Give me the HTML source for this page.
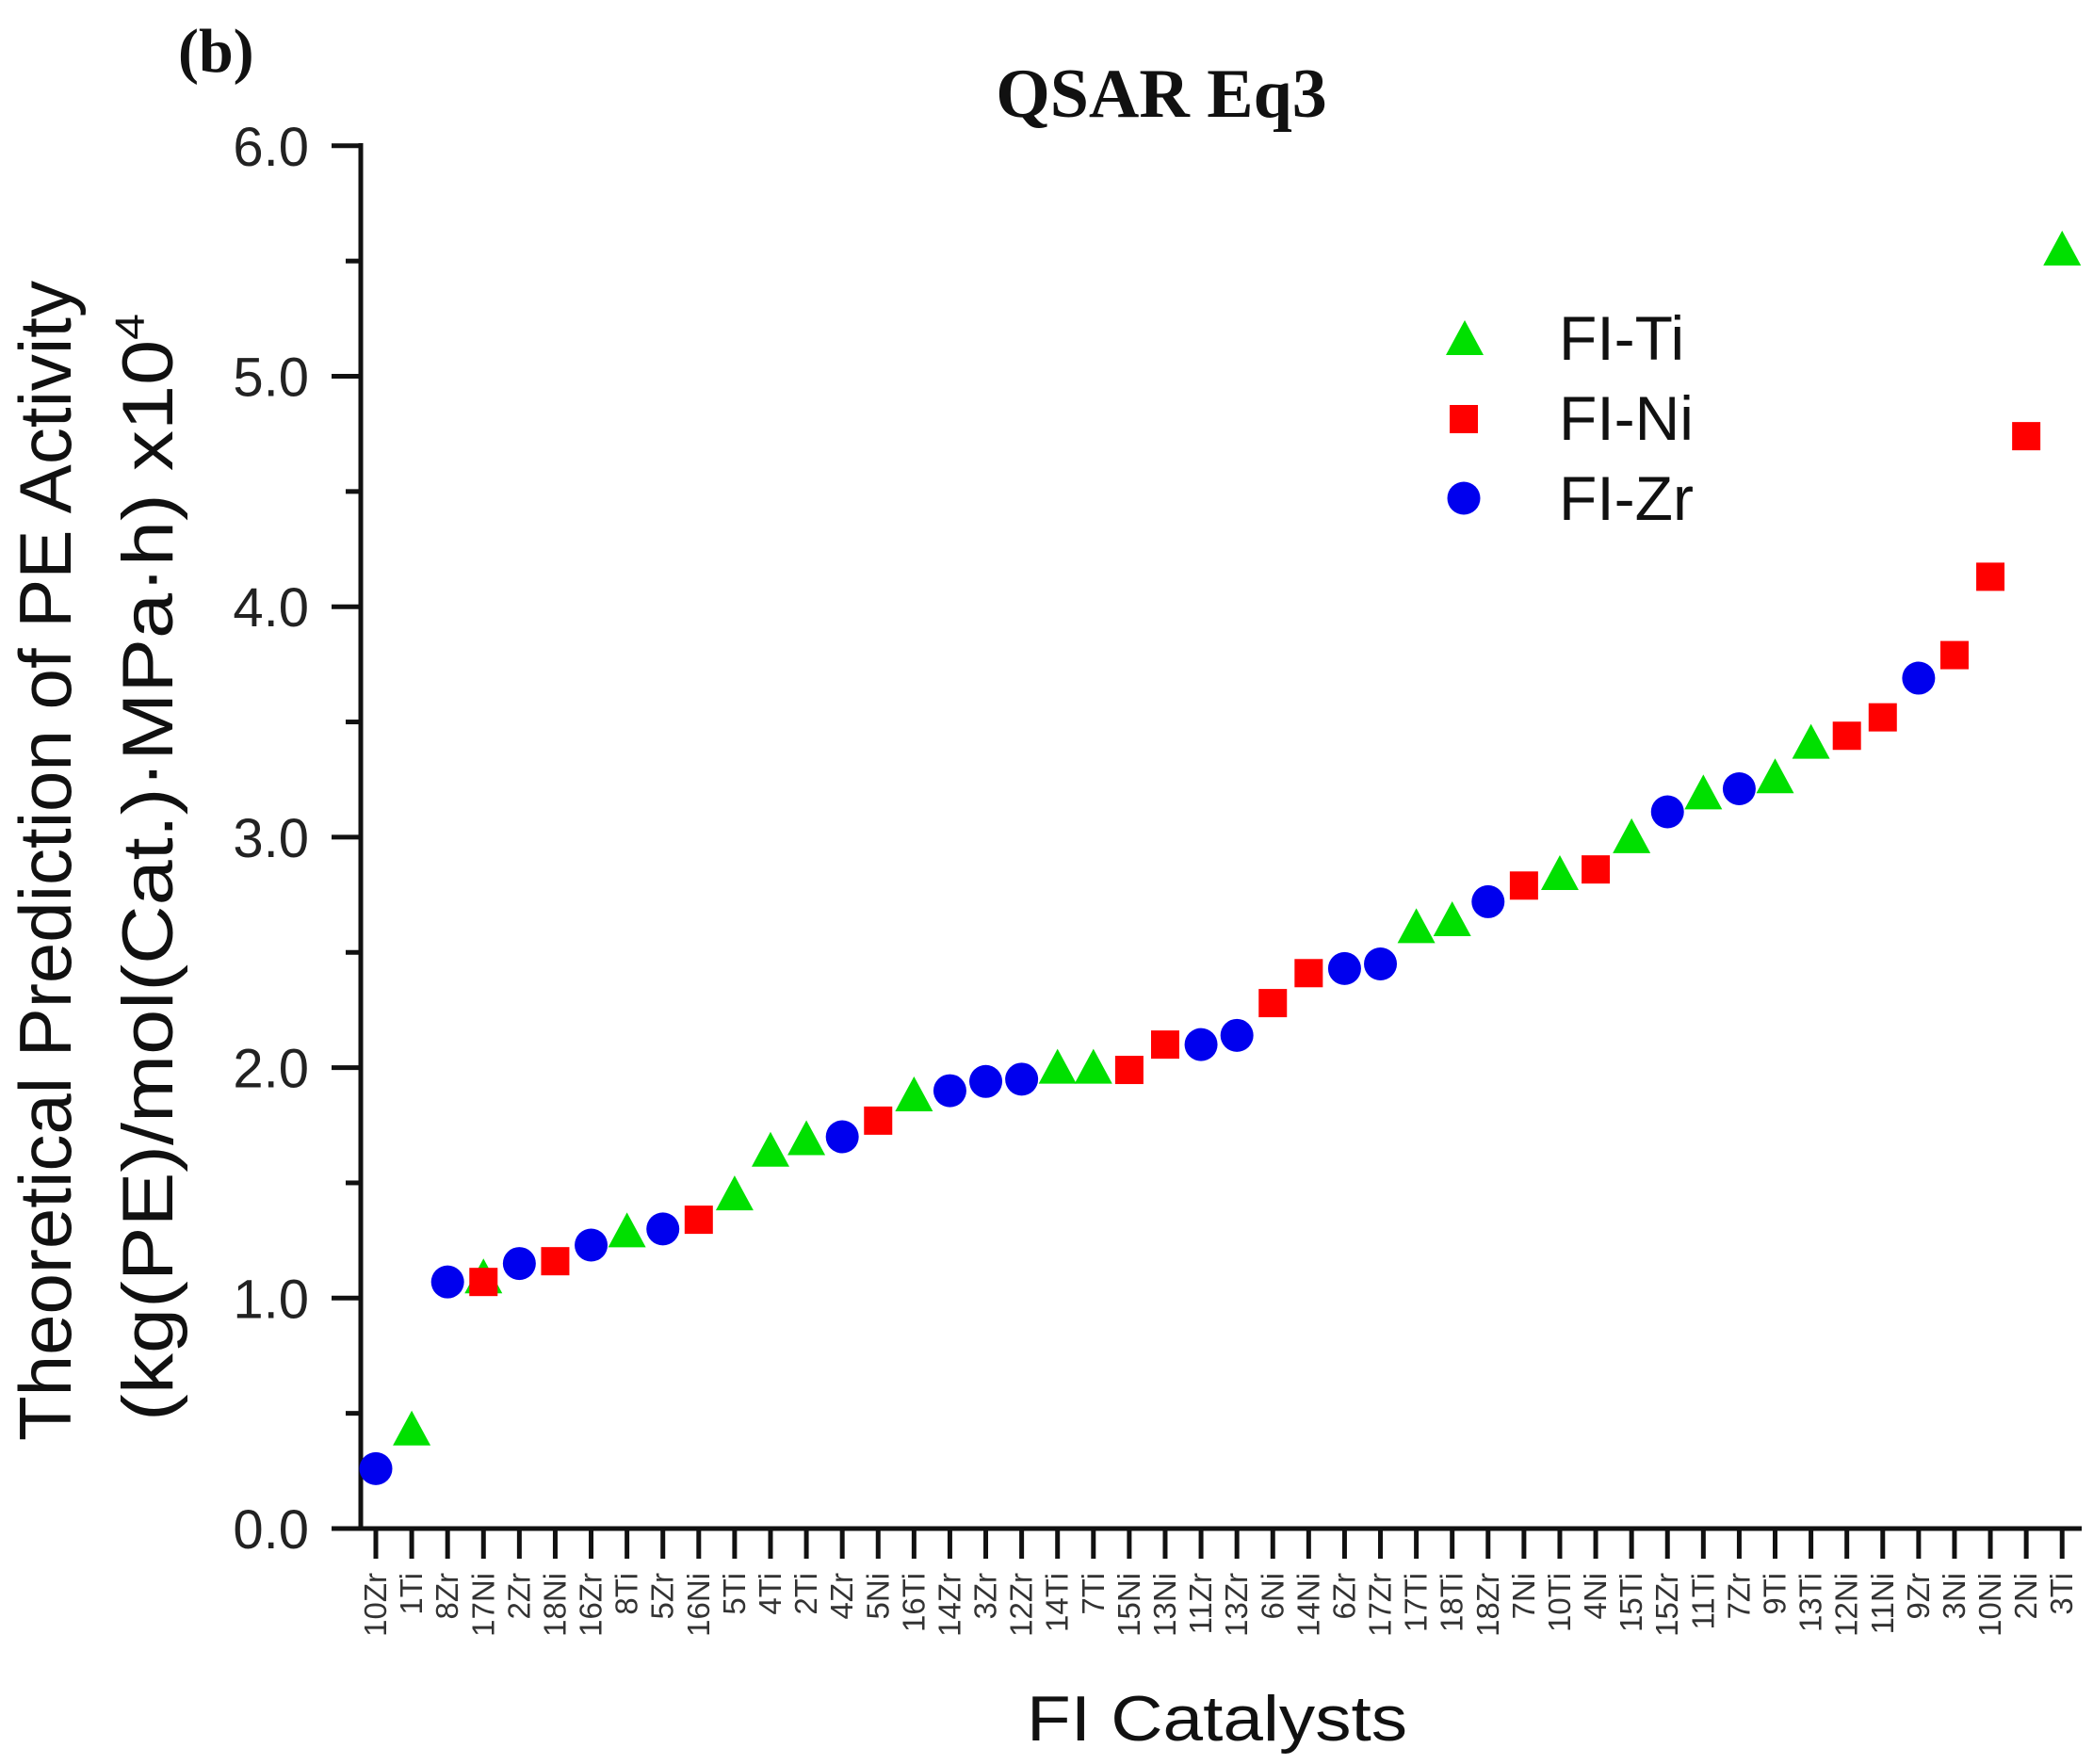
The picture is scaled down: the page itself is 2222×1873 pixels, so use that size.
<!DOCTYPE html>
<html><head><meta charset="utf-8"><style>html,body{margin:0;padding:0;background:#fff}svg{display:block}</style></head>
<body>
<svg width="2222" height="1873" viewBox="0 0 2222 1873" xmlns="http://www.w3.org/2000/svg">
<rect width="2222" height="1873" fill="#fff"/>
<text x="189" y="76" font-family="Liberation Serif, serif" font-weight="bold" font-size="66" fill="#111">(b)</text>
<text x="1233" y="124" text-anchor="middle" font-family="Liberation Serif, serif" font-weight="bold" font-size="74" fill="#111">QSAR Eq3</text>
<g font-family="Liberation Sans, sans-serif" fill="#111">
<text transform="translate(75,914) rotate(-90)" text-anchor="middle" font-size="78" textLength="1232" lengthAdjust="spacingAndGlyphs">Theoretical Prediction of PE Activity</text>
<text transform="translate(183,921) rotate(-90)" text-anchor="middle" font-size="76" textLength="1176" lengthAdjust="spacingAndGlyphs">(kg(PE)/mol(Cat.)·MPa·h) x10<tspan dy="-30" font-size="44">4</tspan></text>
<text x="1292" y="1848" text-anchor="middle" font-size="68" textLength="404" lengthAdjust="spacingAndGlyphs">FI Catalysts</text>
</g>
<g stroke="#111" stroke-width="5" fill="none" id="axes"></g>
<g id="content"></g>
<script>
var NS="http://www.w3.org/2000/svg";
var ax=document.getElementById('axes'),ct=document.getElementById('content');
function el(t,a,p){var e=document.createElementNS(NS,t);for(var k in a)e.setAttribute(k,a[k]);(p||ct).appendChild(e);return e;}
var X0=383,Y0=1623,UY=244.7;
function yv(v){return Y0-v*UY;}
el('line',{x1:X0,y1:Y0+2,x2:X0,y2:152},ax);
el('line',{x1:X0-2,y1:Y0,x2:2210,y2:Y0},ax);
for(var i=0;i<=12;i++){var v=i/2,y=yv(v);var maj=i%2==0;
el('line',{x1:maj?352:367,y1:y,x2:X0,y2:y},ax);
if(maj){var t=el('text',{x:328,y:y+21,'text-anchor':'end','font-family':'Liberation Sans, sans-serif','font-size':'58',fill:'#222'});t.textContent=v.toFixed(1);}}
var d=[["10Zr",.26],["1Ti",.43],["8Zr",1.07],["17Ni",1.07],["2Zr",1.15],["18Ni",1.16],["16Zr",1.23],["8Ti",1.29],["5Zr",1.30],["16Ni",1.34],["5Ti",1.45],["4Ti",1.64],["2Ti",1.69],["4Zr",1.70],["5Ni",1.77],["16Ti",1.88],["14Zr",1.90],["3Zr",1.94],["12Zr",1.95],["14Ti",2.0],["7Ti",2.0],["15Ni",1.99],["13Ni",2.10],["11Zr",2.10],["13Zr",2.14],["6Ni",2.28],["14Ni",2.41],["6Zr",2.43],["17Zr",2.45],["17Ti",2.61],["18Ti",2.64],["18Zr",2.72],["7Ni",2.79],["10Ti",2.84],["4Ni",2.86],["15Ti",3.0],["15Zr",3.11],["11Ti",3.19],["7Zr",3.21],["9Ti",3.26],["13Ti",3.41],["12Ni",3.44],["11Ni",3.52],["9Zr",3.69],["3Ni",3.79],["10Ni",4.13],["2Ni",4.74],["3Ti",5.55]];
function mk(type,x,y){
if(type=="Ti")el('polygon',{points:(x-20)+","+(y+17)+" "+(x+20)+","+(y+17)+" "+x+","+(y-20),fill:'#00e000'});
else if(type=="Ni")el('rect',{x:x-15,y:y-15,width:30,height:30,fill:'#ff0000'});
else el('ellipse',{cx:x,cy:y,rx:17.5,ry:17.5,fill:'#0000ee'});}
mk("Ti",399+3*38.09,yv(1.09));
d.forEach(function(p,i){var x=399+i*38.09;
el('line',{x1:x,y1:Y0,x2:x,y2:1655},ax);
var t=el('text',{transform:'translate('+(x+11)+',1670) rotate(-90)','text-anchor':'end','font-family':'Liberation Sans, sans-serif','font-size':'33',fill:'#333'});t.textContent=p[0];
mk(p[0].replace(/[0-9]/g,''),x,yv(p[1]));});
mk("Ti",1555,360);mk("Ni",1554,445);mk("Zr",1554,529);
[["FI-Ti",382],["FI-Ni",467],["FI-Zr",552]].forEach(function(l){var t=el('text',{x:1655,y:l[1],'font-family':'Liberation Sans, sans-serif','font-size':'66',fill:'#111'});t.textContent=l[0];});
</script>
</svg>
</body></html>
